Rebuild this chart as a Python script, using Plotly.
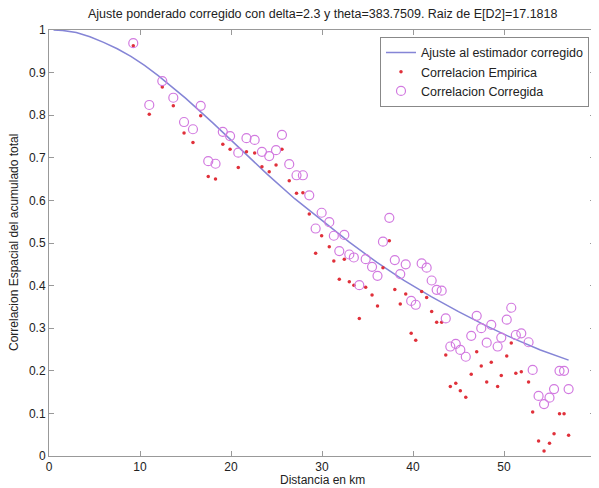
import plotly.graph_objects as go

# Data
dist = [9.26, 11.02, 12.45, 13.66, 14.84, 15.82, 16.67, 17.5, 18.3, 19.1,
        19.9, 20.8, 21.7, 22.6, 23.4, 24.2, 24.95, 25.6, 26.4, 27.2,
        27.9, 28.6, 29.3, 29.96, 30.8, 31.3, 31.9, 32.45, 33.0, 33.5,
        34.1, 34.8, 35.5, 36.1, 36.7, 37.4, 38.0, 38.6, 39.2, 39.8,
        40.3, 40.95, 41.5, 42.05, 42.6, 43.15, 43.6, 44.1, 44.7, 45.2,
        45.8, 46.4, 47.0, 47.5, 48.1, 48.6, 49.3, 49.7, 50.3, 50.8,
        51.3, 51.9, 52.7, 53.15, 53.8, 54.4, 55.0, 55.5, 56.1, 56.6, 57.1]

corr_corregida = [0.969, 0.824, 0.880, 0.841, 0.784, 0.767, 0.822, 0.692, 0.686, 0.761,
                  0.751, 0.712, 0.746, 0.742, 0.714, 0.704, 0.718, 0.754, 0.685, 0.659,
                  0.659, 0.612, 0.534, 0.571, 0.549, 0.517, 0.481, 0.519, 0.473, 0.466,
                  0.401, 0.462, 0.444, 0.423, 0.503, 0.559, 0.460, 0.427, 0.450, 0.364,
                  0.355, 0.452, 0.442, 0.412, 0.390, 0.388, 0.323, 0.257, 0.263, 0.249,
                  0.233, 0.282, 0.329, 0.300, 0.266, 0.308, 0.257, 0.278, 0.320, 0.348,
                  0.284, 0.288, 0.267, 0.202, 0.141, 0.122, 0.137, 0.157, 0.200, 0.200, 0.157]

corr_empirica = [0.963, 0.802, 0.866, 0.822, 0.758, 0.736, 0.799, 0.656, 0.650, 0.732,
                 0.720, 0.677, 0.714, 0.711, 0.679, 0.667, 0.683, 0.720, 0.646, 0.617,
                 0.618, 0.568, 0.476, 0.517, 0.491, 0.458, 0.415, 0.462, 0.409, 0.401,
                 0.323, 0.396, 0.378, 0.352, 0.442, 0.505, 0.391, 0.357, 0.380, 0.288,
                 0.272, 0.386, 0.372, 0.339, 0.314, 0.314, 0.237, 0.163, 0.171, 0.153,
                 0.138, 0.192, 0.245, 0.211, 0.174, 0.220, 0.163, 0.189, 0.235, 0.265,
                 0.194, 0.198, 0.174, 0.103, 0.035, 0.012, 0.030, 0.052, 0.099, 0.099, 0.049]

fit_x = [0.5, 1.5, 3, 4.5, 6, 7.5, 9, 10.5, 12, 13.5, 15, 18, 21, 24, 27, 30, 33,
         36, 39, 42, 45, 48, 51, 54, 57.1]
fit_y = [1.0, 0.999, 0.994, 0.984, 0.971, 0.956, 0.938, 0.917, 0.893, 0.867, 0.840,
         0.782, 0.721, 0.661, 0.604, 0.552, 0.502, 0.455, 0.412, 0.374, 0.339, 0.306,
         0.276, 0.249, 0.225]

x_ticks = [0, 10, 20, 30, 40, 50, 60]
y_ticks = [0, 0.1, 0.2, 0.3, 0.4, 0.5, 0.6, 0.7, 0.8, 0.9, 1]
y_tick_labels = ["0", "0.1", "0.2", "0.3", "0.4", "0.5", "0.6", "0.7", "0.8", "0.9", "1"]

FONT = "Liberation Sans, Arial, sans-serif"
TXT = "#222222"

fig = go.Figure()
fig.add_trace(go.Scatter(
    x=fit_x, y=fit_y, mode="lines", line=dict(color="#8585d6", width=1.5),
    name="Ajuste al estimador corregido"))
fig.add_trace(go.Scatter(
    x=dist, y=corr_empirica, mode="markers",
    marker=dict(color="#e0303a", size=3.5, symbol="circle"),
    name="Correlacion Empirica"))
fig.add_trace(go.Scatter(
    x=dist, y=corr_corregida, mode="markers",
    marker=dict(symbol="circle-open", size=9, color="#d27ae0", line=dict(width=1.2)),
    name="Correlacion Corregida"))

axis_common = dict(
    showline=True, linecolor="#999999", linewidth=1, mirror="ticks",
    ticks="inside", ticklen=5, tickcolor="#999999", showgrid=False, zeroline=False,
    tickfont=dict(family=FONT, size=12, color=TXT),
)

# page body has an 8px margin: figure is sized/offset so the plot box sits at
# x 49..595, y 30..456 in the 599x488 window
fig.update_layout(
    width=591, height=480,
    paper_bgcolor="white", plot_bgcolor="white",
    margin=dict(l=41, r=4, t=22, b=32, autoexpand=False),
    font=dict(family=FONT, size=12, color=TXT),
    xaxis=dict(range=[0, 60], tickvals=x_ticks, ticktext=[str(v) for v in x_ticks],
               **axis_common),
    yaxis=dict(range=[0, 1], tickvals=y_ticks, ticktext=y_tick_labels,
               **axis_common),
    legend=dict(x=0.989, xanchor="right", y=0.984, yanchor="top",
                bgcolor="white", bordercolor="#888888", borderwidth=1,
                font=dict(family=FONT, size=12.5, color=TXT),
                tracegroupgap=0, itemwidth=30),
    showlegend=True,
    annotations=[
        dict(text="Ajuste ponderado corregido con delta=2.3 y theta=383.7509. Raiz de E[D2]=17.1818",
             xref="paper", yref="paper", x=0.5, y=1 + (30 - 14) / 426,
             xanchor="center", yanchor="middle", showarrow=False,
             font=dict(family=FONT, size=12.5, color=TXT)),
        dict(text="Distancia en km", xref="paper", yref="paper",
             x=0.5, y=-(480 - 456) / 426, xanchor="center", yanchor="middle",
             showarrow=False, font=dict(family=FONT, size=12, color=TXT)),
        dict(text="Correlacion Espacial del acumulado total", xref="paper", yref="paper",
             x=-(49 - 14) / 546, y=0.5, xanchor="center", yanchor="middle",
             textangle=-90, showarrow=False, font=dict(family=FONT, size=12, color=TXT)),
    ],
)

fig.write_html("out.html")
